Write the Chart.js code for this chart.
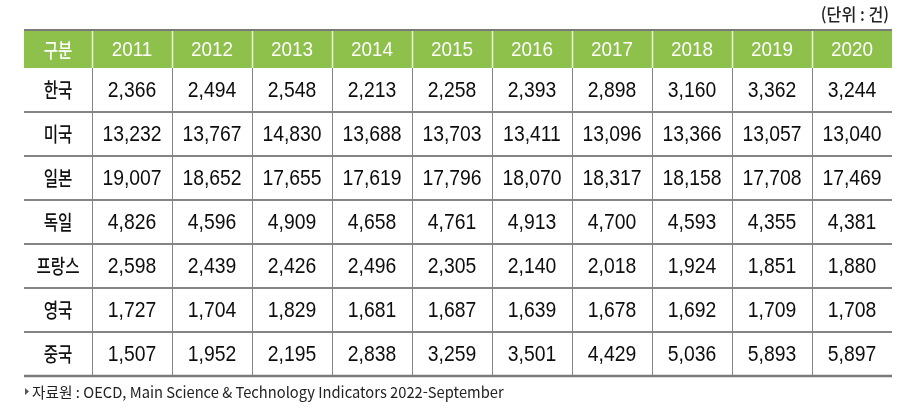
<!DOCTYPE html>
<html lang="ko">
<head>
<meta charset="UTF-8">
<title>국가별 건수 2011-2020</title>
<script src="https://cdn.jsdelivr.net/npm/chart.js"></script>
<style>
  html, body { margin: 0; padding: 0; background: #fff; }
</style>
</head>
<body>
<canvas id="tbl" width="904" height="411"></canvas>
<script>
// 표 데이터
const years = ['2011', '2012', '2013', '2014', '2015', '2016', '2017', '2018', '2019', '2020'];
const countries = ['한국', '미국', '일본', '독일', '프랑스', '영국', '중국'];

const korea   = [2366, 2494, 2548, 2213, 2258, 2393, 2898, 3160, 3362, 3244];
const usa     = [13232, 13767, 14830, 13688, 13703, 13411, 13096, 13366, 13057, 13040];
const japan   = [19007, 18652, 17655, 17619, 17796, 18070, 18317, 18158, 17708, 17469];
const germany = [4826, 4596, 4909, 4658, 4761, 4913, 4700, 4593, 4355, 4381];
const france  = [2598, 2439, 2426, 2496, 2305, 2140, 2018, 1924, 1851, 1880];
const uk      = [1727, 1704, 1829, 1681, 1687, 1639, 1678, 1692, 1709, 1708];
const china   = [1507, 1952, 2195, 2838, 3259, 3501, 4429, 5036, 5893, 5897];

const rowValues = [korea, usa, japan, germany, france, uk, china];

const headerLabel = '구분';
const unitText = '(단위 : 건)';
const sourceText = '자료원 : OECD, Main Science & Technology Indicators 2022-September';

// 배치
const LABEL_W = 68;   // 첫 열 폭
const HEADER_H = 38;  // 머리행 높이
const HEADER_BG = '#8dc14b';
const LINE_GRAY = '#858585';

const NUM_FONT = '22px "Liberation Sans", Arial, sans-serif';
const KO_FONT = '500 20px "Noto Sans CJK KR", sans-serif';

// 글자를 가로로 늘이거나 눌러서 그림 (좁은 글꼴 흉내)
function drawText(ctx, str, x, y, font, color, sx, align) {
  ctx.save();
  ctx.font = font;
  ctx.fillStyle = color;
  ctx.textAlign = align || 'center';
  ctx.textBaseline = 'middle';
  ctx.translate(x, y);
  ctx.scale(sx, 1);
  ctx.fillText(str, 0, 0);
  ctx.restore();
}

function hLine(ctx, x1, x2, y, color, width) {
  ctx.beginPath();
  ctx.strokeStyle = color;
  ctx.lineWidth = width;
  ctx.moveTo(x1, y);
  ctx.lineTo(x2, y);
  ctx.stroke();
}

function vLine(ctx, x, y1, y2, color, width) {
  ctx.beginPath();
  ctx.strokeStyle = color;
  ctx.lineWidth = width;
  ctx.moveTo(x, y1);
  ctx.lineTo(x, y2);
  ctx.stroke();
}

const tablePlugin = {
  id: 'tablePlugin',
  beforeDatasetsDraw(chart) {
    const { ctx, chartArea: a, scales: { x, y } } = chart;
    const colHalf = (x.getPixelForTick(1) - x.getPixelForTick(0)) / 2;
    const rowHalf = (y.getPixelForTick(1) - y.getPixelForTick(0)) / 2;
    const left = a.left - LABEL_W;
    const top = a.top - HEADER_H;
    ctx.save();

    // 머리행 배경
    ctx.fillStyle = HEADER_BG;
    ctx.fillRect(left, top, a.right - left, HEADER_H);

    // 세로선
    years.forEach((yr, i) => {
      const xl = Math.round(x.getPixelForTick(i) - colHalf) + 0.5;
      vLine(ctx, xl, top, a.top, '#eef5df', 1.5);
      vLine(ctx, xl, a.top, a.bottom, LINE_GRAY, 1);
    });

    // 가로선
    countries.forEach((c, j) => {
      if (j < countries.length - 1) {
        const yb = Math.round(y.getPixelForTick(j) + rowHalf);
        hLine(ctx, left, a.right, yb, LINE_GRAY, 2);
      }
    });
    hLine(ctx, left, a.right, top, '#7a7a7a', 2);
    hLine(ctx, left, a.right, a.bottom, '#7a7a7a', 2.5);

    // 머리행 글자
    drawText(ctx, headerLabel, left + LABEL_W / 2, top + HEADER_H / 2 + 1, KO_FONT, '#ffffff', 0.78);
    years.forEach((yr, i) => {
      drawText(ctx, yr, x.getPixelForTick(i), top + HEADER_H / 2 + 1, '21px "Liberation Sans", Arial, sans-serif', '#ffffff', 0.9);
    });

    // 첫 열 (국가명)
    countries.forEach((c, j) => {
      drawText(ctx, c, left + LABEL_W / 2, y.getPixelForTick(j), KO_FONT, '#111', 0.78);
    });

    // 단위, 출처
    drawText(ctx, unitText, a.right - 3, 14.5, '500 17px "Noto Sans CJK KR", sans-serif', '#222', 0.95, 'right');
    ctx.fillStyle = '#555';
    ctx.beginPath();
    ctx.moveTo(left + 1, 388);
    ctx.lineTo(left + 5, 391.5);
    ctx.lineTo(left + 1, 395);
    ctx.closePath();
    ctx.fill();
    drawText(ctx, sourceText, left + 8, 392, '15px "Noto Sans CJK KR", "Liberation Sans", sans-serif', '#222', 0.98, 'left');

    ctx.restore();
  },
  afterDatasetsDraw(chart) {
    const { ctx } = chart;
    ctx.save();
    chart.data.datasets.forEach((ds, j) => {
      const meta = chart.getDatasetMeta(j);
      meta.data.forEach((pt, i) => {
        const v = ds.data[i].v;
        drawText(ctx, v.toLocaleString('en-US'), pt.x, pt.y + 0.5, NUM_FONT, '#0d0d0d', 0.88);
      });
    });
    ctx.restore();
  }
};

const datasets = countries.map((c, j) => ({
  label: c,
  data: years.map((yr, i) => ({ x: yr, y: c, v: rowValues[j][i] })),
  pointRadius: 0,
  pointHoverRadius: 0
}));

new Chart(document.getElementById('tbl').getContext('2d'), {
  type: 'scatter',
  data: { datasets: datasets },
  options: {
    responsive: false,
    animation: false,
    devicePixelRatio: 1,
    layout: { padding: { left: 24 + LABEL_W, right: 12, top: 30 + HEADER_H, bottom: 35 } },
    plugins: { legend: { display: false }, tooltip: { enabled: false } },
    scales: {
      x: { type: 'category', labels: years, offset: true, display: false },
      y: { type: 'category', labels: countries, offset: true, display: false }
    }
  },
  plugins: [tablePlugin]
});
</script>
</body>
</html>
